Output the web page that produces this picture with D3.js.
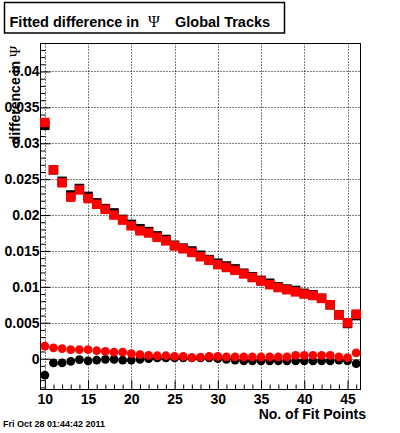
<!DOCTYPE html>
<html>
<head>
<meta charset="utf-8">
<script src="https://cdn.jsdelivr.net/npm/d3@7"></script>
<style>
  body { margin: 0; background: #fff; }
  svg { display: block; font-family: 'Liberation Sans', Arial, sans-serif; }
</style>
</head>
<body>
<svg id="chart" width="400" height="433"></svg>
<script>
// number of fit points (x)
const fitPoints = d3.range(10, 47);

// black squares
const blackSquares = [
  0.0325, 0.0263, 0.0247, 0.0228, 0.0237, 0.0226, 0.0217, 0.0209, 0.0203, 0.0194,
  0.0187, 0.0181, 0.0177, 0.0171, 0.0166, 0.0158, 0.0154, 0.0150, 0.0144, 0.0138,
  0.0133, 0.0129, 0.0125, 0.0119, 0.0114, 0.0109, 0.0105, 0.0100, 0.0097, 0.0095,
  0.0091, 0.0089, 0.0084, 0.0075, 0.0061, 0.0049, 0.0060
];

// red squares
const redSquares = [
  0.0329, 0.0263, 0.0245, 0.0225, 0.0235, 0.0223, 0.0215, 0.0208, 0.0200, 0.0193,
  0.0185, 0.0178, 0.0175, 0.0169, 0.0164, 0.0157, 0.0153, 0.0148, 0.0142, 0.0137,
  0.0131, 0.0127, 0.0123, 0.0118, 0.0113, 0.0108, 0.0103, 0.0099, 0.0096, 0.0093,
  0.0090, 0.0088, 0.0084, 0.0075, 0.0061, 0.0050, 0.0062
];

// black circles
const blackCircles = [
  -0.0023, -0.0006, -0.0006, -0.00037, -0.00014, -0.0003, -0.0002, -0.0001, -0.0001, -0.0002,
  -0.0002, -0.0001, 0.0, 0.0001, 0.0001, 0.0001, 0.0001, 0.0001, 0.0001, 0.0001,
  0.0, -0.0001, -0.0002, -0.0003, -0.0003, -0.0003, -0.0003, -0.0003, -0.0003, -0.0003,
  -0.0003, -0.0003, -0.0003, -0.0003, -0.0002, -0.0003, -0.0007
];

// red circles
const redCircles = [
  0.00175, 0.0015, 0.0014, 0.00125, 0.00125, 0.00125, 0.0011, 0.0010, 0.0009, 0.0009,
  0.0007, 0.00055, 0.00046, 0.0004, 0.0004, 0.00032, 0.0003, 0.00015, 0.0002, 0.0003,
  0.0003, 0.00025, 0.00023, 0.00023, 0.00023, 0.00023, 0.00023, 0.00023, 0.00023, 0.00046,
  0.00046, 0.00046, 0.00046, 0.00046, 0.00023, 0.00015, 0.0008
];

const xMajorTicks = [10, 15, 20, 25, 30, 35, 40, 45];
const yMajorTicks = [0, 0.005, 0.01, 0.015, 0.02, 0.025, 0.03, 0.035, 0.04];

const svg = d3.select('#chart');
const frame = { left: 40.5, right: 360.5, top: 43.5, bottom: 389.5 };

const x = d3.scaleLinear().domain([9.5, 46.5]).range([frame.left, frame.right]);
const y = d3.scaleLinear().domain([-0.0043, 0.0439]).range([frame.bottom, frame.top]);

// grid
const grid = svg.append('g').attr('class', 'grid');
grid.selectAll('line.gx')
  .data(xMajorTicks)
  .enter()
  .append('line')
  .attr('x1', d => Math.round(x(d)) + 0.5)
  .attr('x2', d => Math.round(x(d)) + 0.5)
  .attr('y1', frame.top)
  .attr('y2', frame.bottom)
  .style('stroke', '#000')
  .style('stroke-dasharray', '1,2');
grid.selectAll('line.gy')
  .data(yMajorTicks)
  .enter()
  .append('line')
  .attr('x1', frame.left)
  .attr('x2', frame.right)
  .attr('y1', d => Math.round(y(d)) + 0.5)
  .attr('y2', d => Math.round(y(d)) + 0.5)
  .style('stroke', '#000')
  .style('stroke-dasharray', '1,2');

// axes
const xAxis = d3.axisBottom(x)
  .tickValues(xMajorTicks)
  .tickFormat(d3.format('d'))
  .tickSizeInner(-9)
  .tickSizeOuter(0)
  .tickPadding(4.5);
const xMinor = d3.axisBottom(x)
  .tickValues(fitPoints.filter(d => d % 5 !== 0))
  .tickFormat('')
  .tickSizeInner(-5)
  .tickSizeOuter(0);
const yAxis = d3.axisLeft(y)
  .tickValues(yMajorTicks)
  .tickFormat(d => d === 0 ? '0' : d3.format('')(+d.toFixed(3)))
  .tickSizeInner(-10)
  .tickSizeOuter(0)
  .tickPadding(1);
const yMinor = d3.axisLeft(y)
  .tickValues(d3.range(-4, 44).filter(d => d % 5 !== 0).map(d => d / 1000))
  .tickFormat('')
  .tickSizeInner(-5)
  .tickSizeOuter(0);

const styleAxis = g => {
  g.select('.domain').remove();
  g.selectAll('line').style('stroke', '#000');
  g.selectAll('text')
    .style('font-size', '14px')
    .style('font-weight', 'bold')
    .attr('fill', '#000');
};

svg.append('g').attr('transform', `translate(0,${frame.bottom})`).call(xAxis).call(styleAxis);
svg.append('g').attr('transform', `translate(0,${frame.bottom})`).call(xMinor).call(styleAxis);
svg.append('g').attr('transform', `translate(${frame.left},0)`).call(yAxis).call(styleAxis);
svg.append('g').attr('transform', `translate(${frame.left},0)`).call(yMinor).call(styleAxis);

// frame
svg.append('rect')
  .attr('x', frame.left)
  .attr('y', frame.top)
  .attr('width', frame.right - frame.left)
  .attr('height', frame.bottom - frame.top)
  .style('fill', 'none')
  .style('stroke', '#000')
  .style('stroke-width', 1);

// markers
const plot = svg.append('g');
const sq = 9.5;
const drawSquares = (values, color) => {
  plot.append('g')
    .selectAll('rect')
    .data(values)
    .enter()
    .append('rect')
    .attr('x', (d, i) => x(fitPoints[i]) - sq / 2)
    .attr('y', d => y(d) - sq / 2)
    .attr('width', sq)
    .attr('height', sq)
    .style('fill', color);
};
const drawCircles = (values, color) => {
  plot.append('g')
    .selectAll('circle')
    .data(values)
    .enter()
    .append('circle')
    .attr('cx', (d, i) => x(fitPoints[i]))
    .attr('cy', d => y(d))
    .attr('r', 4.4)
    .style('fill', color);
};
drawSquares(blackSquares, '#000');
drawSquares(redSquares, '#ff0000');
drawCircles(blackCircles, '#000');
drawCircles(redCircles, '#ff0000');

// title box
svg.append('rect')
  .attr('x', 4.5)
  .attr('y', 2.5)
  .attr('width', 280)
  .attr('height', 30.5)
  .style('fill', '#fff')
  .style('stroke', '#000')
  .style('stroke-width', 1.5);

const title = svg.append('text')
  .attr('y', 27)
  .style('font-size', '14.5px')
  .style('font-weight', 'bold')
  .attr('fill', '#000');
title.append('tspan').attr('x', 9.5).text('Fitted difference in');
title.append('tspan')
  .attr('x', 154)
  .attr('text-anchor', 'middle')
  .style('font-family', "'Liberation Serif', 'DejaVu Serif', serif")
  .style('font-weight', 'normal')
  .style('font-size', '16px')
  .text('Ψ');
title.append('tspan').attr('x', 175).attr('text-anchor', 'start').text('Global Tracks');

// y title
const yTitle = svg.append('text')
  .attr('transform', 'translate(20,46) rotate(-90)')
  .attr('text-anchor', 'end')
  .style('font-size', '14px')
  .style('font-weight', 'bold')
  .attr('fill', '#000');
yTitle.append('tspan').text('difference in ');
yTitle.append('tspan')
  .style('font-family', "'Liberation Serif', 'DejaVu Serif', serif")
  .style('font-weight', 'normal')
  .style('font-size', '15px')
  .text('Ψ');

// x title
svg.append('text')
  .attr('x', 366)
  .attr('y', 419)
  .attr('text-anchor', 'end')
  .style('font-size', '14px')
  .style('font-weight', 'bold')
  .attr('fill', '#000')
  .text('No. of Fit Points');

// date stamp
svg.append('text')
  .attr('x', 3)
  .attr('y', 427)
  .style('font-size', '9px')
  .style('font-weight', 'bold')
  .attr('fill', '#000')
  .text('Fri Oct 28 01:44:42 2011');
</script>
</body>
</html>
